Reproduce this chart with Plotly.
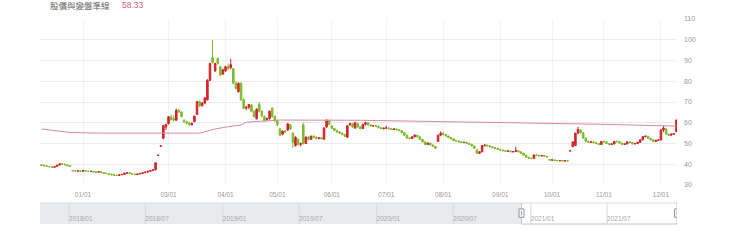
import pandas as pd
import plotly.graph_objects as go

# ---------------- data ----------------
holidays = ["2021-01-01", "2021-02-08", "2021-02-09", "2021-02-10", "2021-02-11",
            "2021-02-12", "2021-02-15", "2021-02-16", "2021-03-01", "2021-04-02",
            "2021-04-05", "2021-06-14", "2021-09-20", "2021-09-21", "2021-10-11"]
dates = [d.strftime("%Y-%m-%d") for d in
         pd.bdate_range("2020-12-10", "2021-12-09", freq="C", holidays=holidays)]

open_ = [39.8,39.5,39.2,38.9,38.8,38.5,38.9,39.6,40.2,40.1,
         39.7,39.3,37.0,36.9,36.7,36.8,36.6,36.9,36.7,36.5,
         36.6,36.3,36.2,36.4,36.0,35.7,35.5,35.2,34.9,34.7,
         34.6,34.9,35.1,35.7,35.9,35.5,35.2,35.0,35.3,35.6,
         35.9,36.2,36.6,37.0,37.3,44.2,48.7,52.5,58.0,59.5,
         62.9,62.0,61.2,66.0,65.2,61.0,60.5,59.8,59.0,60.5,
         64.0,70.2,68.2,69.5,71.0,80.5,91.5,85.0,91.0,87.0,
         83.5,85.0,87.0,86.5,86.0,79.0,75.0,79.0,71.0,67.0,
         67.5,68.5,65.5,62.0,69.0,65.5,63.0,61.5,62.0,67.0,
         63.0,61.0,57.0,54.5,56.0,56.5,59.0,55.0,49.0,52.0,
         49.5,59.0,50.0,53.0,52.0,53.5,53.0,52.5,52.8,52.0,
         58.0,61.0,58.5,57.3,56.3,55.5,55.0,54.3,53.0,59.0,
         59.5,57.5,59.5,58.0,57.2,59.2,60.0,59.0,58.5,58.6,
         58.3,57.6,57.2,57.4,57.5,57.1,56.8,57.0,56.6,56.2,
         55.2,54.0,52.6,52.4,53.2,54.0,53.2,52.0,50.8,49.5,
         50.2,49.3,48.6,51.0,54.0,55.0,54.3,53.6,52.9,52.2,
         51.4,51.2,50.8,50.5,50.6,50.1,49.6,48.8,47.0,45.3,
         46.0,49.0,49.2,48.9,48.4,48.0,47.7,47.2,46.8,46.5,
         46.3,46.4,46.0,46.1,46.5,46.0,45.3,44.4,43.4,42.9,
         42.8,44.5,44.3,44.0,44.2,43.8,42.3,42.0,42.1,41.8,
         41.7,41.8,41.6,41.7,46.4,48.5,49.0,55.0,56.5,55.2,
         52.6,51.0,50.6,50.8,50.4,50.0,49.5,51.0,50.8,50.0,
         49.5,49.8,51.0,50.9,50.2,49.6,49.8,50.8,50.5,49.8,
         50.0,50.6,51.8,53.3,53.5,52.5,51.8,51.0,51.5,51.7,
         56.5,57.0,54.5,54.0,54.5,55.7]

high = [39.9,39.7,39.4,39.2,39.0,39.0,39.7,40.4,40.4,40.2,
        39.8,39.4,37.2,37.0,36.9,36.9,37.0,37.0,36.8,36.7,
        36.7,36.4,36.5,36.5,36.1,35.8,35.6,35.3,35.5,34.9,
        35.0,35.2,35.9,36.0,36.0,35.6,35.4,35.4,35.7,36.0,
        36.3,36.7,37.1,37.4,40.8,44.4,48.9,59.0,59.5,63.2,
        64.0,63.5,66.8,66.8,65.5,61.8,61.0,60.5,60.0,63.5,
        70.5,70.8,70.0,72.3,81.0,89.0,99.9,89.0,91.5,87.5,
        86.0,87.5,88.5,90.8,86.5,80.0,79.5,79.5,72.0,68.0,
        69.0,69.0,66.0,67.0,70.0,66.0,63.5,62.5,66.0,67.5,
        63.5,61.5,57.5,56.2,56.5,59.8,59.5,55.5,53.5,52.5,
        50.5,60.0,53.5,53.5,53.8,54.0,53.5,53.0,53.0,57.8,
        61.8,61.5,58.8,57.5,56.5,56.0,55.3,54.5,58.8,60.0,
        59.8,60.5,60.0,58.3,59.5,60.5,60.2,59.3,58.8,59.0,
        58.4,57.8,57.6,58.5,57.7,57.3,57.2,57.2,56.8,56.3,
        55.4,54.2,53.0,53.5,54.5,54.2,53.4,52.2,51.0,50.5,
        50.4,49.5,48.8,54.2,55.8,55.3,54.5,53.8,53.0,52.3,
        51.8,51.5,51.2,50.8,50.8,50.3,49.8,49.0,47.2,46.2,
        49.3,49.8,49.5,49.1,48.6,48.2,47.9,47.4,47.0,46.8,
        46.6,46.5,46.3,48.5,46.7,46.2,45.5,44.6,43.6,43.1,
        44.7,45.0,44.5,44.4,44.3,44.0,42.5,42.3,42.2,42.0,
        41.9,41.9,41.8,41.8,46.6,51.0,55.2,58.0,57.0,55.5,
        52.8,51.5,51.0,51.0,50.6,50.2,51.2,51.5,51.0,50.2,
        50.0,51.2,51.5,51.0,50.4,50.0,51.0,51.0,50.7,50.2,
        50.8,52.0,53.6,54.0,53.7,52.8,52.0,51.8,51.9,56.8,
        58.5,57.5,54.8,54.8,55.0,61.5]

low = [39.4,39.1,38.9,38.6,38.3,38.3,38.8,39.5,39.9,39.6,
       39.2,38.9,36.7,36.6,36.6,36.5,36.5,36.6,36.4,36.4,
       36.2,36.1,36.1,35.8,35.6,35.4,35.1,34.8,34.6,34.5,
       34.5,34.8,35.0,35.5,35.4,35.1,34.9,34.9,35.2,35.5,
       35.8,36.1,36.5,36.9,37.2,44.2,48.7,52.0,56.5,59.3,
       61.0,60.5,61.0,64.8,62.5,60.0,59.3,58.5,58.7,60.3,
       63.8,67.5,67.8,69.0,70.8,80.0,88.5,84.5,88.0,82.5,
       83.0,84.5,85.5,85.8,78.5,76.0,74.5,70.5,66.5,66.0,
       66.5,65.0,62.5,61.5,65.0,62.8,60.5,61.0,61.5,62.5,
       60.5,58.5,53.5,54.0,55.0,56.0,56.5,47.8,48.5,49.0,
       48.5,49.5,49.8,51.5,51.8,52.5,52.0,52.0,52.0,51.8,
       57.5,58.8,57.0,56.0,55.2,54.8,54.0,53.2,52.8,58.5,
       57.5,57.0,57.5,56.8,57.0,58.5,58.7,58.2,58.0,58.0,
       57.4,57.0,56.8,57.2,56.9,56.6,56.5,56.4,56.0,55.0,
       53.8,52.3,52.0,52.2,53.0,53.0,51.8,50.5,49.2,49.3,
       49.0,48.3,47.5,50.8,53.5,54.0,53.3,52.6,52.0,51.2,
       51.0,50.5,50.3,50.2,49.9,49.4,48.6,47.5,45.0,45.0,
       45.8,48.5,48.6,48.2,47.8,47.5,47.0,46.6,46.3,46.1,
       46.0,45.8,45.7,45.9,45.8,45.1,44.2,43.2,42.6,42.5,
       42.7,44.0,43.8,43.9,43.6,43.3,41.8,41.7,41.6,41.5,
       41.4,41.4,41.3,41.4,46.3,48.2,48.8,54.5,54.8,52.3,
       50.8,50.3,50.2,50.2,49.8,49.3,49.4,50.5,49.8,49.3,
       49.3,49.6,50.6,50.0,49.4,49.3,49.6,50.2,49.6,49.5,
       49.8,50.4,51.6,53.0,52.3,51.5,50.8,50.8,51.2,51.5,
       55.5,54.2,53.8,53.8,54.2,55.5]

close = [39.5,39.2,39.0,38.8,38.5,38.9,39.6,40.2,40.1,39.7,
         39.3,39.0,36.9,36.7,36.8,36.6,36.9,36.7,36.5,36.6,
         36.3,36.2,36.4,35.9,35.7,35.5,35.2,34.9,34.7,34.6,
         34.9,35.1,35.7,35.9,35.5,35.2,35.0,35.3,35.6,35.9,
         36.2,36.6,37.0,37.3,40.7,44.4,48.9,58.6,59.2,62.9,
         61.5,61.3,66.0,65.2,63.0,60.5,59.8,59.0,59.8,63.2,
         70.2,68.2,69.5,72.0,80.5,88.5,89.0,88.5,88.5,83.0,
         85.5,87.0,86.0,88.0,79.0,76.5,79.0,71.0,67.0,67.5,
         68.8,65.5,63.0,66.5,65.5,63.2,61.0,62.0,65.5,63.0,
         61.0,59.0,54.0,56.0,55.5,59.5,57.0,50.5,53.0,49.5,
         50.0,50.0,53.0,52.0,53.5,53.0,52.5,52.8,52.3,57.5,
         61.0,59.2,57.3,56.3,55.5,55.0,54.3,53.5,58.5,59.5,
         58.0,60.0,58.0,57.2,59.2,60.0,59.0,58.5,58.6,58.3,
         57.6,57.2,57.4,57.5,57.1,56.8,57.0,56.6,56.2,55.2,
         54.0,52.6,52.4,53.2,54.0,53.2,52.0,50.8,49.5,50.2,
         49.3,48.6,47.7,54.0,55.0,54.3,53.6,52.9,52.2,51.4,
         51.2,50.8,50.5,50.6,50.1,49.6,48.8,47.7,45.3,46.0,
         49.0,49.2,48.9,48.4,48.0,47.7,47.2,46.8,46.5,46.3,
         46.4,46.0,46.1,46.5,46.0,45.3,44.4,43.4,42.9,42.8,
         44.5,44.3,44.0,44.2,43.8,43.5,42.0,42.1,41.8,41.7,
         41.8,41.6,41.7,41.6,46.5,50.8,55.0,56.8,55.2,52.6,
         51.0,50.6,50.8,50.4,50.0,49.5,51.0,50.8,50.0,49.5,
         49.8,51.0,50.9,50.2,49.6,49.8,50.8,50.5,49.8,50.0,
         50.6,51.8,53.3,53.5,52.5,51.8,51.0,51.5,51.7,56.5,
         57.5,54.5,54.0,54.5,54.8,61.3]

ma_dates = ["2020-12-10", "2020-12-17", "2020-12-25", "2021-01-13", "2021-02-24",
            "2021-03-18", "2021-03-23", "2021-03-26", "2021-04-06", "2021-04-13",
            "2021-04-15", "2021-04-26", "2021-05-04", "2021-06-17", "2021-08-05",
            "2021-09-15", "2021-10-28", "2021-12-09"]
ma_values = [57.0, 56.3, 55.3, 55.0, 54.8, 55.0, 56.0, 57.0, 58.1, 58.9,
             60.3, 61.0, 61.3, 61.2, 60.6, 60.0, 59.3, 58.4]

title_text = "股價與變盤準線"
title_value = "58.33"

tick_months = ["2021-01", "2021-03", "2021-04", "2021-05", "2021-06", "2021-07",
               "2021-08", "2021-09", "2021-10", "2021-11", "2021-12"]
tick_labels = ["01/01", "03/01", "04/01", "05/01", "06/01", "07/01",
               "08/01", "09/01", "10/01", "11/01", "12/01"]

nav_dates = ["2018-01-01", "2018-07-01", "2019-01-01", "2019-07-01",
             "2020-01-01", "2020-07-01", "2021-01-01", "2021-07-01"]
nav_labels = ["2018/01", "2018/07", "2019/01", "2019/07",
              "2020/01", "2020/07", "2021/01", "2021/07"]
nav_range = ["2017-10-24", "2021-12-14"]

# ---------------- figure ----------------
RED = "#d2232a"
GREEN = "#7fbb2c"
FONT = "Liberation Sans, Arial, sans-serif"

tickvals = [next(d for d in dates if d.startswith(m)) for m in tick_months]

fig = go.Figure()
fig.add_trace(go.Candlestick(
    x=dates, open=open_, high=high, low=low, close=close,
    increasing=dict(line=dict(color=RED, width=1), fillcolor=RED),
    decreasing=dict(line=dict(color=GREEN, width=1), fillcolor=GREEN),
    whiskerwidth=0, showlegend=False, hoverinfo="skip",
    xaxis="x", yaxis="y"))
fig.add_trace(go.Scatter(
    x=ma_dates, y=ma_values, mode="lines",
    line=dict(color="#d98aa0", width=1), showlegend=False, hoverinfo="skip",
    xaxis="x", yaxis="y"))
fig.add_trace(go.Scatter(
    x=nav_dates, y=[0.22] * len(nav_dates), text=nav_labels, mode="text",
    textposition="middle right", textfont=dict(size=6.5, color="#a8a8a8", family=FONT),
    showlegend=False, hoverinfo="skip", xaxis="x2", yaxis="y2", cliponaxis=False))

shapes = []
shapes.append(dict(type="rect", xref="x2", yref="y2 domain", x0=nav_range[0], x1=dates[0],
                   y0=0, y1=1, fillcolor="#e8ebee", line=dict(width=0), layer="below"))
shapes.append(dict(type="line", xref="x2", yref="y2 domain", x0=nav_range[0], x1=nav_range[1],
                   y0=1, y1=1, line=dict(color="#dadada", width=1)))
for d in nav_dates:
    shapes.append(dict(type="line", xref="x2", yref="y2 domain", x0=d, x1=d, y0=0, y1=1,
                       line=dict(color="#d6dadf", width=1), layer="below"))
shapes.append(dict(type="line", xref="x2", yref="y2 domain", x0=dates[0], x1=dates[0],
                   y0=0, y1=1, line=dict(color="#c4c4c4", width=1)))
shapes.append(dict(type="line", xref="x2", yref="y2 domain", x0=dates[0], x1=nav_range[1],
                   y0=0, y1=0, line=dict(color="#c4c4c4", width=1)))
shapes.append(dict(type="line", xref="x2", yref="y2 domain", x0=nav_range[1], x1=nav_range[1],
                   y0=0, y1=1, line=dict(color="#c4c4c4", width=1)))
for anchor in [dates[0], nav_range[1]]:
    shapes.append(dict(type="rect", xref="x2", yref="y2 domain", xsizemode="pixel",
                       xanchor=anchor, x0=-2.5, x1=2.5, y0=0.32, y1=0.72,
                       fillcolor="#f4f4f4", line=dict(color="#999999", width=1)))
    shapes.append(dict(type="line", xref="x2", yref="y2 domain", xsizemode="pixel",
                       xanchor=anchor, x0=0, x1=0, y0=0.42, y1=0.62,
                       line=dict(color="#aaaaaa", width=1)))

fig.update_layout(
    width=740, height=244,
    margin=dict(l=40, r=63, t=19, b=20),
    paper_bgcolor="white", plot_bgcolor="white",
    font=dict(family=FONT, color="#999999"),
    boxgap=0.15,
    shapes=shapes,
    xaxis=dict(type="category", range=[-0.59, 245.2], tickvals=tickvals, ticktext=tick_labels,
               showgrid=True, gridcolor="#f3f3f3", gridwidth=1, ticks="", showline=False,
               zeroline=False, tickfont=dict(size=6.5, color="#999999"),
               ticklabelstandoff=4, rangeslider=dict(visible=False), anchor="y",
               domain=[0, 1]),
    yaxis=dict(side="right", range=[30, 110], dtick=10, showgrid=True, gridcolor="#ececec",
               zeroline=False, ticks="", showline=False,
               tickfont=dict(size=7, color="#999999"), ticklabelstandoff=6,
               domain=[0.1902, 1], anchor="x"),
    xaxis2=dict(type="date", range=nav_range, showticklabels=False, showgrid=False,
                zeroline=False, ticks="", showline=False, anchor="y2", domain=[0, 1]),
    yaxis2=dict(range=[0, 1], visible=False, domain=[0, 0.1024], anchor="x2"),
    annotations=[
        dict(text=title_text, xref="paper", yref="paper", x=0.0126, y=1.066,
             xanchor="left", yanchor="middle", showarrow=False,
             font=dict(size=8.5, color="#666666", family="Noto Sans CJK TC")),
        dict(text=title_value, xref="paper", yref="paper", x=0.1256, y=1.066,
             xanchor="left", yanchor="middle", showarrow=False,
             font=dict(size=8.5, color="#d0607f", family=FONT)),
    ],
)

fig.write_html("out.html")
